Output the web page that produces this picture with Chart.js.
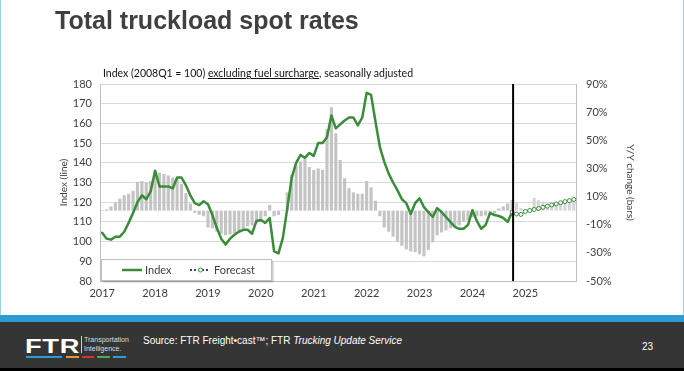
<!DOCTYPE html>
<html>
<head>
<meta charset="utf-8">
<script src="https://cdn.jsdelivr.net/npm/chart.js@4.4.1/dist/chart.umd.min.js"></script>
<style>
  html, body { margin: 0; padding: 0; background: #fff; }
  #slide { position: relative; width: 684px; height: 371px; overflow: hidden; background: #fff; }
  #chart { position: absolute; left: 0; top: 0; }
  .title { position: absolute; left: 55px; top: 8px; font: bold 25px/1 "Liberation Sans", Arial, sans-serif; color: #404040; white-space: nowrap; }
  .subtitle { position: absolute; left: 103px; top: 67px; font: 10.5px/1.2 Lato, sans-serif; color: #111; white-space: nowrap; }
  .edge { position: absolute; top: 0; width: 1px; height: 315px; background: #9ccfe4; }
  .stripe { position: absolute; left: 0; top: 315px; width: 684px; height: 7px; background: #2e9bd3; }
  .footer { position: absolute; left: 0; top: 322px; width: 684px; height: 46px; background: #353535; color: #fff; font-family: "Liberation Sans", Arial, sans-serif; }
  .bottom { position: absolute; left: 0; top: 368px; width: 684px; height: 3px; background: #000; }
  .logo { position: absolute; left: 25px; top: 13px; font: 900 21px/1 "Liberation Sans", Arial, sans-serif; transform: scaleX(1.3); transform-origin: left top; letter-spacing: 0.5px; }
  .logo-bar { position: absolute; left: 81px; top: 14px; width: 1px; height: 17px; background: #ccc; }
  .logo-sub { position: absolute; left: 84px; top: 14px; font: 7px/8.5px "Liberation Sans Narrow", "Liberation Sans", Arial, sans-serif; color: #ddd; }
  .dash { position: absolute; top: 34px; height: 2px; }
  .source { position: absolute; left: 143px; top: 13px; font: 10px/1.2 "Liberation Sans", Arial, sans-serif; white-space: nowrap; }
  .page { position: absolute; left: 642px; top: 19px; font: 10px/1.2 "Liberation Sans", Arial, sans-serif; }
</style>
</head>
<body>
<div id="slide">
  <canvas id="chart" width="684" height="315"></canvas>
  <div class="title">Total truckload spot rates</div>
  <div class="subtitle">Index (2008Q1 = 100) <u>excluding fuel surcharge</u>, seasonally adjusted</div>
  <div class="edge" style="left:0"></div>
  <div class="edge" style="left:683px"></div>
  <div class="stripe"></div>
  <div class="footer">
    <div class="logo">FTR</div>
    <div class="logo-bar"></div>
    <div class="logo-sub">Transportation<br>Intelligence.</div>
    <div class="dash" style="left:26px;width:36px;background:#2e9bd3"></div>
    <div class="dash" style="left:66px;width:13px;background:#e39a2d"></div>
    <div class="dash" style="left:82px;width:12px;background:#d9342b"></div>
    <div class="dash" style="left:97px;width:13px;background:#4caf50"></div>
    <div class="dash" style="left:113px;width:13px;background:#2e9bd3"></div>
    <div class="source">Source: FTR Freight•cast™; FTR <i>Trucking Update Service</i></div>
    <div class="page">23</div>
  </div>
  <div class="bottom"></div>
</div>
<script>
const years = [2017, 2018, 2019, 2020, 2021, 2022, 2023, 2024, 2025];
const months = ['Jan', 'Feb', 'Mar', 'Apr', 'May', 'Jun', 'Jul', 'Aug', 'Sep', 'Oct', 'Nov', 'Dec'];
const forecastStart = 'Oct 2024';

// index level, Jan 2017 - Oct 2024
const indexValues = [
  104.5, 101.5, 101, 102.5, 102.5, 105, 109.5, 114.5, 120, 123.5, 121.5, 125.5,
  136, 128, 128, 128, 127, 132.5, 132.5, 128.5, 123.5, 119.5, 118.5, 120.5,
  119, 113.5, 107, 101.5, 98.5, 101.5, 103.5, 105, 106, 106, 104, 110.5,
  111, 109.5, 112, 95, 94, 102, 117, 132.5, 140, 144, 142.5, 145,
  143.5, 150, 150, 153, 164, 157.5, 159.5, 161.5, 163, 163, 159, 163,
  175.5, 174.5, 161, 148, 140.5, 134.5, 130, 126, 121.5, 119.5, 114, 119.5,
  122, 117.5, 115, 112.5, 117, 115, 112.5, 110, 107.5, 106.5, 106.5, 108.5,
  116, 110.5, 106.5, 108.5, 114.5, 113.5, 113, 112, 110, 115
];

// forecast, Oct 2024 - Dec 2025
const forecastValues = [
  115, 114, 113.8, 115.3, 115.8, 116.3, 116.8, 117.4, 118, 118.6, 119.1, 119.7, 120.3, 120.8, 121.4
];

// y/y change in %, Jan 2017 - Dec 2025
const yoyChange = [
  0.5, 1, 3, 6, 8.5, 11, 12, 14, 20.5, 21, 20, 21,
  28.5, 27, 26, 25, 23.5, 23, 19, 12.5, 5, -1.5, -3, -4,
  -12, -12.5, -15, -16.5, -17.5, -17, -16, -14.5, -13, -11, -10.5, -9,
  -8, -4, 4, -4, -3, 0.5, 13, 25.5, 32, 35, 36.5, 31,
  29, 30, 29, 58, 73.5, 55, 36, 23, 16, 13, 12, 12,
  21, 16.5, 7, -4, -12, -15, -18.5, -22, -25, -27.5, -29, -29.5,
  -31, -32.5, -28, -22.5, -17.5, -15.5, -14, -12.5, -11.5, -10.5, -8, -7,
  -4.5, -4, -4, -3.5, -3, -2, 1.5, 3, 5, 7.5, 5.5, 2,
  0, 0.5, 9, 7.5, 6.5, 5, 4.5, 5, 6.5, 7.5, 7.5, 7.5
];

const labels = years.flatMap(y => months.map(m => `${m} ${y}`));
const fcIdx = labels.indexOf(forecastStart);
const indexData = labels.map((_, i) => (i < indexValues.length ? indexValues[i] : null));
const forecastData = labels.map((_, i) => (i >= fcIdx ? forecastValues[i - fcIdx] : null));
const barColors = labels.map((_, i) => (i > fcIdx ? '#d6d6d6' : '#c4c4c4'));

const GREEN = '#3a8c3a';
const TXT = '#404040';
const FONT = 'Lato, sans-serif';

const forecastLine = {
  id: 'forecastLine',
  afterDatasetsDraw(chart) {
    const { ctx, chartArea, scales } = chart;
    const x = scales.x.getPixelForValue(fcIdx) + 1;
    ctx.save();
    ctx.strokeStyle = '#000';
    ctx.lineWidth = 2;
    ctx.beginPath();
    ctx.moveTo(x, chartArea.top);
    ctx.lineTo(x, chartArea.bottom);
    ctx.stroke();
    ctx.restore();
  }
};

const legendBox = {
  id: 'legendBox',
  afterDatasetsDraw(chart) {
    const { ctx, chartArea } = chart;
    const x = chartArea.left + 1, h = 21, y = chartArea.bottom - h - 1, w = 170;
    const cy = y + h / 2 + 0.5;
    ctx.save();
    ctx.shadowColor = 'rgba(0,0,0,0.3)';
    ctx.shadowOffsetX = 1.5;
    ctx.shadowOffsetY = 1.5;
    ctx.shadowBlur = 2;
    ctx.fillStyle = '#fff';
    ctx.fillRect(x, y, w, h);
    ctx.shadowColor = 'transparent';
    ctx.strokeStyle = '#bfbfbf';
    ctx.lineWidth = 1;
    ctx.strokeRect(x + 0.5, y + 0.5, w, h);

    ctx.strokeStyle = GREEN;
    ctx.lineWidth = 2.5;
    ctx.beginPath();
    ctx.moveTo(x + 21, cy);
    ctx.lineTo(x + 41, cy);
    ctx.stroke();

    ctx.lineWidth = 2;
    ctx.setLineDash([2, 2]);
    ctx.strokeStyle = '#2b4a5e';
    ctx.beginPath();
    ctx.moveTo(x + 89, cy);
    ctx.lineTo(x + 109, cy);
    ctx.stroke();
    ctx.setLineDash([]);
    ctx.fillStyle = '#fff';
    ctx.strokeStyle = GREEN;
    ctx.lineWidth = 1;
    ctx.beginPath();
    ctx.arc(x + 99.5, cy, 2, 0, Math.PI * 2);
    ctx.fill();
    ctx.stroke();

    ctx.fillStyle = TXT;
    ctx.font = '11px ' + FONT;
    ctx.textBaseline = 'middle';
    ctx.fillText('Index', x + 44, cy);
    ctx.fillText('Forecast', x + 113, cy);
    ctx.restore();
  }
};

new Chart(document.getElementById('chart'), {
  data: {
    labels,
    datasets: [
      {
        type: 'line', label: 'Forecast', data: forecastData, yAxisID: 'y', order: 1,
        borderColor: GREEN, borderWidth: 1.5, borderDash: [2, 2],
        pointRadius: 2, pointBackgroundColor: '#fff', pointBorderColor: GREEN, pointBorderWidth: 1,
        tension: 0, spanGaps: false
      },
      {
        type: 'line', label: 'Index', data: indexData, yAxisID: 'y', order: 2,
        borderColor: GREEN, borderWidth: 2.5, pointRadius: 0, tension: 0,
        borderJoinStyle: 'round', borderCapStyle: 'round'
      },
      {
        type: 'bar', label: 'Y/Y change', data: yoyChange, yAxisID: 'y2', order: 3,
        backgroundColor: barColors, categoryPercentage: 1, barPercentage: 0.72
      }
    ]
  },
  options: {
    responsive: false,
    animation: false,
    layout: { padding: { left: 54, right: 44, top: 84, bottom: 9 } },
    plugins: { legend: { display: false }, tooltip: { enabled: false } },
    scales: {
      x: {
        offset: true,
        grid: { display: false, drawTicks: false },
        border: { display: true, color: '#bfbfbf' },
        ticks: {
          autoSkip: false, maxRotation: 0, minRotation: 0, padding: 6,
          color: TXT, font: { family: FONT, size: 11 },
          callback: function (value) {
            const l = this.getLabelForValue(value);
            return l.startsWith('Jan') ? l.slice(4) : '';
          }
        },
        afterFit: (s) => { s.height = 25; }
      },
      y: {
        position: 'left', min: 80, max: 180,
        grid: { color: '#d9d9d9', drawTicks: false },
        border: { display: true, color: '#bfbfbf' },
        ticks: { stepSize: 10, padding: 8, color: TXT, font: { family: FONT, size: 11 } },
        title: { display: true, text: 'Index (line)', color: TXT, font: { family: FONT, size: 10 }, padding: 4 },
        afterFit: (s) => { s.width = 46; }
      },
      y2: {
        position: 'right', min: -50, max: 90,
        grid: { display: false, drawTicks: false },
        border: { display: true, color: '#bfbfbf' },
        ticks: { stepSize: 20, padding: 10, color: TXT, font: { family: FONT, size: 11 }, callback: v => v + '%' },
        title: { display: true, text: 'Y/Y change (bars)', color: TXT, font: { family: FONT, size: 10 }, padding: 4 },
        afterFit: (s) => { s.width = 64; }
      }
    }
  },
  plugins: [forecastLine, legendBox]
});
</script>
</body>
</html>
